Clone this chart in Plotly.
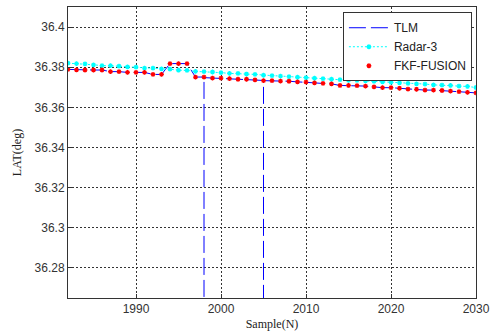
import plotly.graph_objects as go

samples = list(range(1982, 2031))

fkf_fusion = [36.3789, 36.3787, 36.3786, 36.3786, 36.3786, 36.3778, 36.3778, 36.3774, 36.3774, 36.3774,
              36.3764, 36.3764, 36.3818, 36.3818, 36.3818, 36.3751, 36.3751, 36.3746, 36.3746, 36.3743,
              36.3740, 36.3740, 36.3737, 36.3733, 36.3733, 36.3731, 36.3730, 36.3727, 36.3726, 36.3722,
              36.3719, 36.3717, 36.3709, 36.3709, 36.3708, 36.3706, 36.3702, 36.3698, 36.3698, 36.3695,
              36.3691, 36.3690, 36.3686, 36.3686, 36.3684, 36.3681, 36.3678, 36.3675, 36.3672]

radar3 = [36.3820, 36.3818, 36.3817, 36.3812, 36.3808, 36.3808, 36.3805, 36.3802, 36.3800, 36.3795,
          36.3795, 36.3792, 36.3790, 36.3785, 36.3784, 36.3779, 36.3778, 36.3776, 36.3773, 36.3769,
          36.3769, 36.3766, 36.3764, 36.3760, 36.3758, 36.3756, 36.3753, 36.3750, 36.3748, 36.3745,
          36.3743, 36.3740, 36.3738, 36.3735, 36.3734, 36.3732, 36.3730, 36.3727, 36.3724, 36.3722,
          36.3719, 36.3717, 36.3716, 36.3712, 36.3711, 36.3709, 36.3706, 36.3704, 36.3699]

# TLM track: follows the fused track, with two dropouts (at 1998 and 2005) far below the axis
tlm_x = [1982, 1983, 1984, 1985, 1986, 1987, 1988, 1989, 1990, 1991,
         1992, 1993, 1994, 1995, 1996, 1997, 1998, 1998, None, 1998, 1999, 2000, 2001,
         2002, 2003, 2004, 2005, 2005, None, 2005, 2006, 2007, 2008, 2009, 2010, 2011,
         2012, 2013, 2014, 2015, 2016, 2017, 2018, 2019, 2020, 2021,
         2022, 2023, 2024, 2025, 2026, 2027, 2028, 2029, 2030]
tlm_y = [36.3789, 36.3787, 36.3786, 36.3786, 36.3786, 36.3778, 36.3778, 36.3774, 36.3774, 36.3774,
         36.3764, 36.3764, 36.3818, 36.3818, 36.3818, 36.3751, 36.3751, 30.0, None, 36.3748, 36.3746, 36.3746, 36.3743,
         36.3740, 36.3740, 36.3737, 36.3734, 30.0, None, 36.3733, 36.3733, 36.3731, 36.3730, 36.3727, 36.3726, 36.3722,
         36.3719, 36.3717, 36.3709, 36.3709, 36.3708, 36.3706, 36.3702, 36.3698, 36.3698, 36.3695,
         36.3691, 36.3690, 36.3686, 36.3686, 36.3684, 36.3681, 36.3678, 36.3675, 36.3672]

x_ticks = [1990, 2000, 2010, 2020, 2030]
y_ticks = [36.28, 36.3, 36.32, 36.34, 36.36, 36.38, 36.4]
y_tick_labels = ["36.28", "36.3", "36.32", "36.34", "36.36", "36.38", "36.4"]

fig = go.Figure()
fig.add_trace(go.Scatter(x=tlm_x, y=tlm_y, mode="lines", name="TLM", connectgaps=False,
                         line=dict(color="#0000ff", width=1, dash="17px,5px")))
fig.add_trace(go.Scatter(x=samples, y=radar3, mode="lines+markers", name="Radar-3",
                         line=dict(color="#00ffff", width=1, dash="2px,2px"),
                         marker=dict(symbol="asterisk-open", size=4, color="#00ffff",
                                     line=dict(color="#00ffff", width=1.3))))
fig.add_trace(go.Scatter(x=samples, y=fkf_fusion, mode="markers", name="FKF-FUSION",
                         marker=dict(symbol="asterisk-open", size=4, color="#ff0000",
                                     line=dict(color="#ff0000", width=1.3))))

axis_common = dict(showline=True, linecolor="#333333", linewidth=1, mirror=True,
                   ticks="inside", ticklen=4, tickcolor="#333333",
                   showgrid=True, gridcolor="#333333", griddash="2px,2px", gridwidth=1,
                   zeroline=False, automargin=False,
                   tickfont=dict(family="Liberation Sans, Arial", size=12, color="#333333"))

fig.update_xaxes(range=[1982, 2030], tickvals=x_ticks, **axis_common,
                 title=dict(text="Sample(N)", font=dict(family="Liberation Serif, Times New Roman", size=12, color="#222222"),
                            standoff=4))
fig.update_yaxes(range=[36.265, 36.41], tickvals=y_ticks, ticktext=y_tick_labels, **axis_common,
                 title=dict(text="LAT(deg)", font=dict(family="Liberation Serif, Times New Roman", size=12, color="#222222"),
                            standoff=10))

fig.update_layout(
    width=498, height=336,
    margin=dict(l=68, r=22, t=7, b=38),
    plot_bgcolor="white", paper_bgcolor="white",
    showlegend=True,
    legend=dict(x=0.99, y=0.982, xanchor="right", yanchor="top",
                bgcolor="white", bordercolor="#333333", borderwidth=1,
                font=dict(family="Liberation Sans, Arial", size=12, color="#222222"),
                tracegroupgap=0, itemwidth=40),
)

fig.write_html("out.html", config={"displayModeBar": False},
               post_script="document.body.style.margin='0';")
